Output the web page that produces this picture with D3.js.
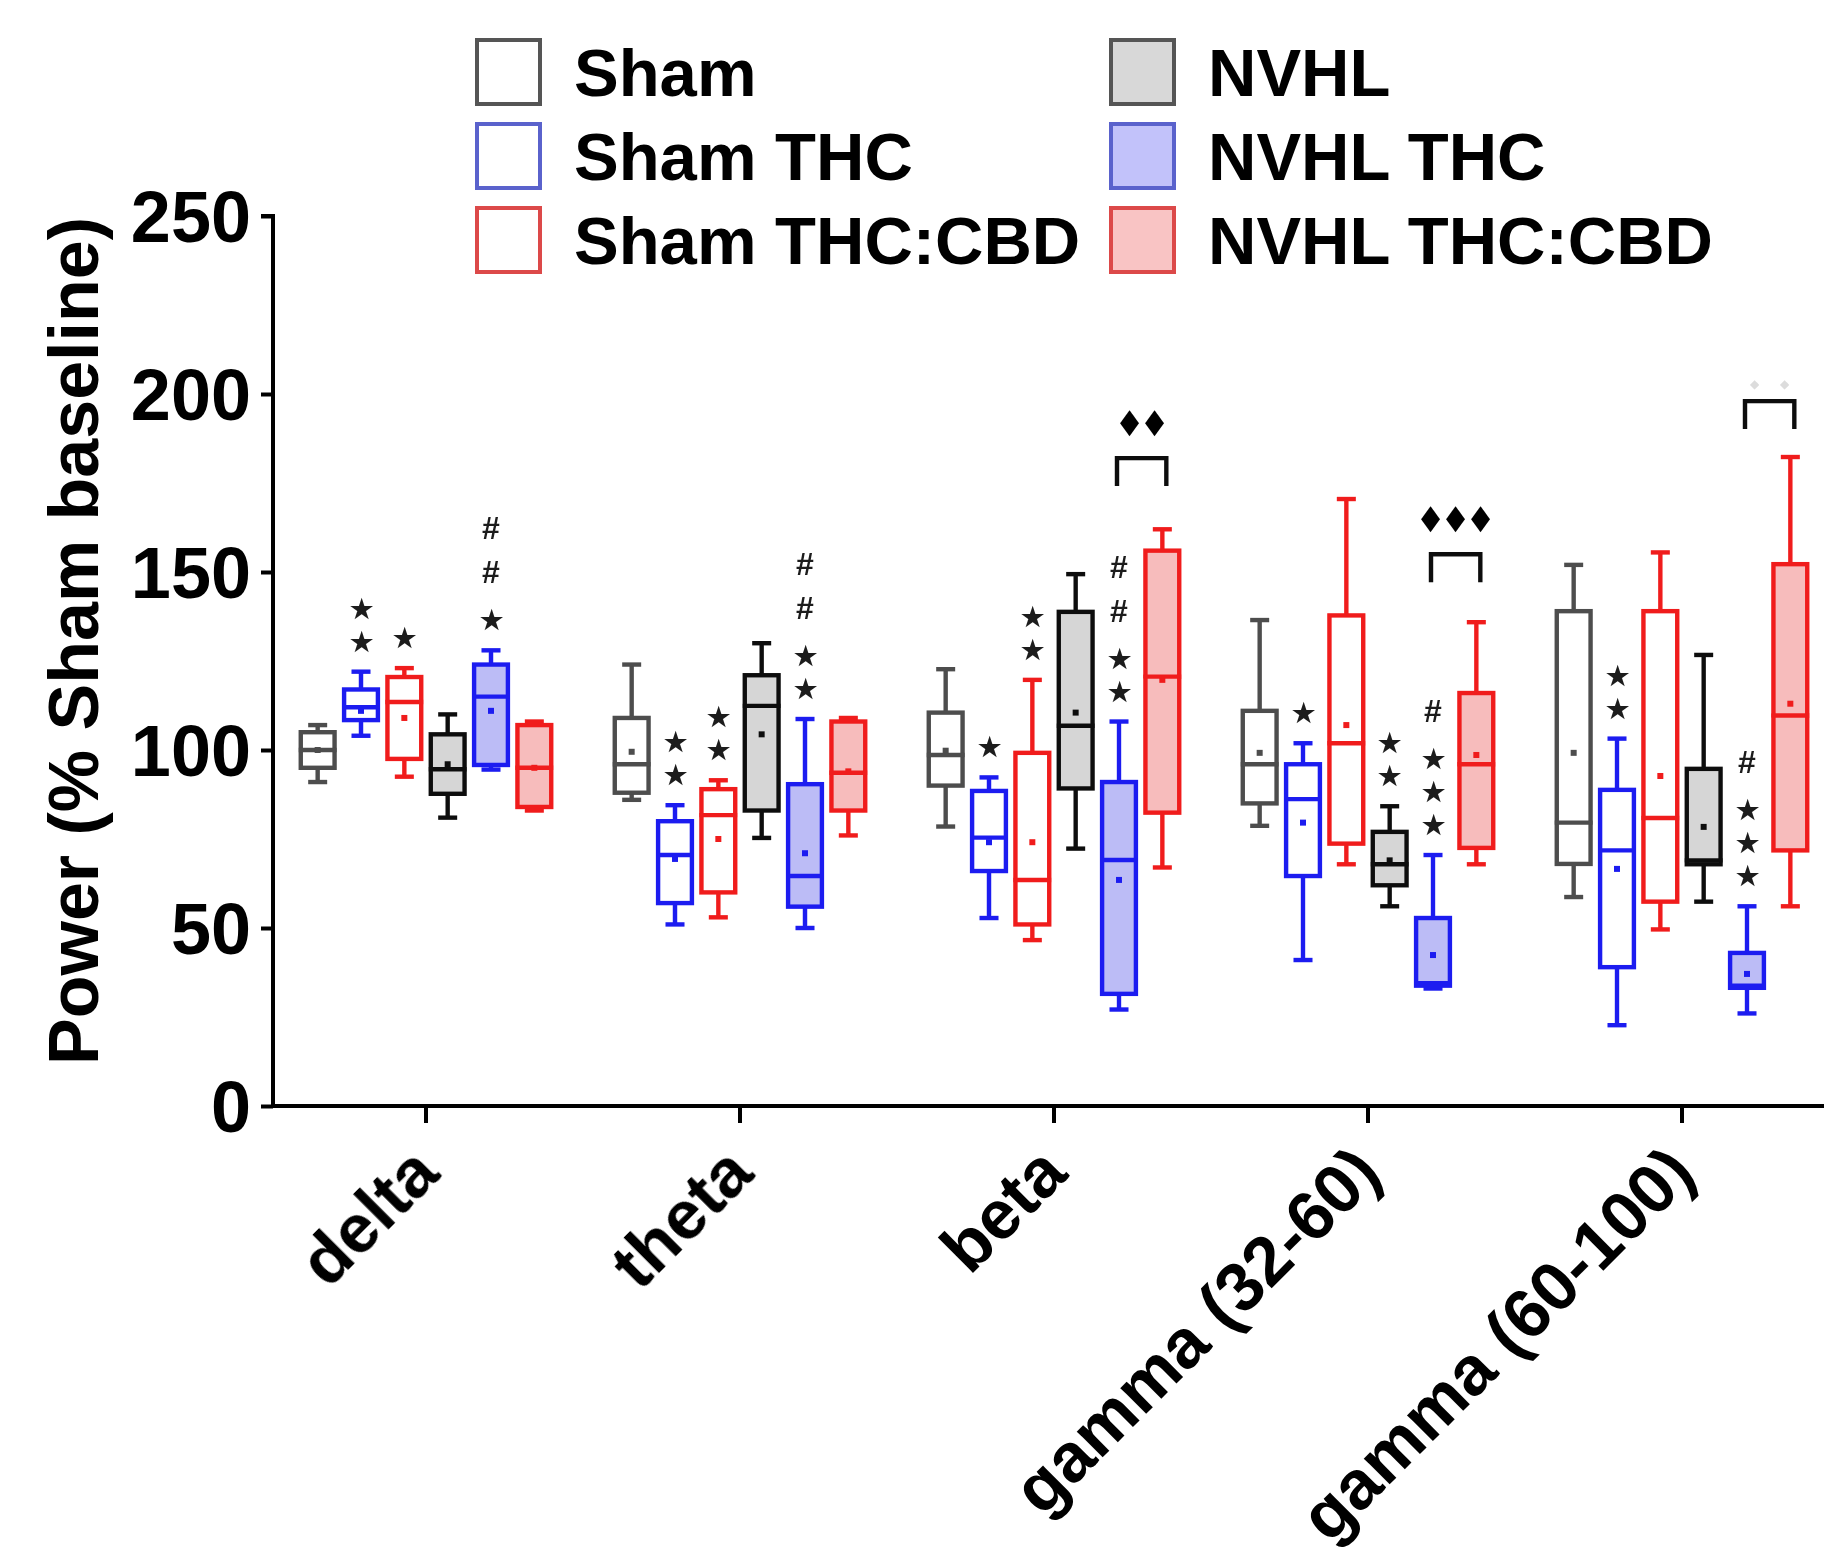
<!DOCTYPE html>
<html>
<head>
<meta charset="utf-8">
<script src="https://cdn.jsdelivr.net/npm/d3@7"></script>
<style>
  html, body { margin: 0; padding: 0; background: #fff; }
  svg { display: block; }
  text { font-family: "Liberation Sans", Arial, sans-serif; }
</style>
</head>
<body>
<svg id="chart" width="1824" height="1555"></svg>
<script>
// Frequency bands and treatment groups
const categories = ["delta", "theta", "beta", "gamma (32-60)", "gamma (60-100)"];
const groups = ["Sham", "Sham THC", "Sham THC:CBD", "NVHL", "NVHL THC", "NVHL THC:CBD"];
const yTicks = [0, 50, 100, 150, 200, 250];

// Box statistics per band: [min, q1, median, q3, max]  (% Sham baseline)
const shamStats = [
  [91, 95, 100, 105, 107],
  [86, 88, 96, 109, 124],
  [78.5, 90, 98.6, 110.5, 122.7],
  [78.7, 85, 96, 111, 136.5],
  [58.7, 68, 79.6, 139, 152]
];
const shamThcStats = [
  [104, 108.4, 112, 117, 122],
  [51, 57, 70.5, 80, 84.5],
  [52.8, 66, 75.4, 88.5, 92.3],
  [41, 64.6, 86.2, 96, 101.9],
  [22.7, 39, 71.8, 88.8, 103.2]
];
const shamThcCbdStats = [
  [92.5, 97.5, 113.5, 120.5, 123],
  [53, 60, 81.7, 89, 91.5],
  [46.6, 51, 63.5, 99.2, 119.7],
  [67.9, 73.7, 101.9, 137.8, 170.5],
  [49.6, 57.4, 80.9, 139, 155.5]
];
const nvhlStats = [
  [81, 87.7, 94.6, 104.4, 110],
  [75.3, 83, 112.4, 121, 130],
  [72.3, 89.2, 106.8, 138.8, 149.4],
  [56.1, 62, 67.9, 77, 84.2],
  [57.4, 67.9, 69, 94.7, 126.7]
];
const nvhlThcStats = [
  [94.5, 95.8, 115, 124, 128],
  [50, 56, 64.6, 90.4, 108.7],
  [27.1, 31.5, 69.1, 91, 108],
  [33, 33.8, 34.5, 52.8, 70.5],
  [26, 33.2, 33.8, 43, 56.1]
];
const nvhlThcCbdStats = [
  [83, 84, 95, 107, 108],
  [76, 83, 93.6, 108, 109],
  [67, 82.4, 120.6, 156, 162],
  [67.9, 72.5, 96, 116, 135.9],
  [56.1, 71.8, 109.7, 152.2, 182.3]
];

// Group means per band
const shamMean = [100, 99.5, 99.8, 99.2, 99.2];
const shamThcMean = [111, 69.4, 74.1, 79.6, 66.6];
const shamThcCbdMean = [109, 75, 74.1, 107, 92.7];
const nvhlMean = [96, 104.4, 110.5, 69, 78.4];
const nvhlThcMean = [111, 71, 63.5, 42.4, 37.1];
const nvhlThcCbdMean = [95, 94, 119.7, 98.6, 113];

// Significance symbols above boxes (listed bottom to top): * vs Sham, # vs NVHL
const sigMarks = [
  { cat: "delta", group: "Sham THC", marks: "**" },
  { cat: "delta", group: "Sham THC:CBD", marks: "*" },
  { cat: "delta", group: "NVHL THC", marks: "*##" },
  { cat: "theta", group: "Sham THC", marks: "**" },
  { cat: "theta", group: "Sham THC:CBD", marks: "**" },
  { cat: "theta", group: "NVHL THC", marks: "**##" },
  { cat: "beta", group: "Sham THC", marks: "*" },
  { cat: "beta", group: "Sham THC:CBD", marks: "**" },
  { cat: "beta", group: "NVHL THC", marks: "**##" },
  { cat: "gamma (32-60)", group: "Sham THC", marks: "*" },
  { cat: "gamma (32-60)", group: "NVHL", marks: "**" },
  { cat: "gamma (32-60)", group: "NVHL THC", marks: "***#" },
  { cat: "gamma (60-100)", group: "Sham THC", marks: "**" },
  { cat: "gamma (60-100)", group: "NVHL THC", marks: "***#" }
];

// NVHL THC vs NVHL THC:CBD comparisons
const brackets = [
  { cat: "beta", level: 182, label: "◆◆", faint: false },
  { cat: "gamma (32-60)", level: 155, label: "◆◆◆", faint: false },
  { cat: "gamma (60-100)", level: 198, label: "◆◆", faint: true }
];

const series = [
  { name: groups[0], stats: shamStats, mean: shamMean, stroke: "#4d4d4d", fill: "#ffffff", legStroke: "#555555", legFill: "#ffffff" },
  { name: groups[1], stats: shamThcStats, mean: shamThcMean, stroke: "#1c1cf0", fill: "#ffffff", legStroke: "#5a62cc", legFill: "#ffffff" },
  { name: groups[2], stats: shamThcCbdStats, mean: shamThcCbdMean, stroke: "#f01c1c", fill: "#ffffff", legStroke: "#dc4848", legFill: "#ffffff" },
  { name: groups[3], stats: nvhlStats, mean: nvhlMean, stroke: "#111111", fill: "#d6d6d6", legStroke: "#555555", legFill: "#d8d8d8" },
  { name: groups[4], stats: nvhlThcStats, mean: nvhlThcMean, stroke: "#1c1cf0", fill: "#bcbcf6", legStroke: "#5a62cc", legFill: "#c2c2fa" },
  { name: groups[5], stats: nvhlThcCbdStats, mean: nvhlThcCbdMean, stroke: "#f01c1c", fill: "#f7bcbc", legStroke: "#dc4848", legFill: "#f9c4c4" }
];

const svg = d3.select("#chart");

// slight softening of the whole figure
svg.append("defs").append("filter").attr("id", "soft")
  .append("feGaussianBlur").attr("stdDeviation", 0.6);
const root = svg.append("g").attr("filter", "url(#soft)");

const axisX = 273, baseY = 1106, topY = 216;
const y = d3.scaleLinear().domain([0, 250]).range([baseY, topY]);
const x = d3.scaleBand().domain(categories).range([269, 1839]).paddingInner(0).paddingOuter(0);
const gx = d3.scaleBand().domain(groups).range([-130, 130]).paddingInner(0.22).paddingOuter(0.11);
const boxW = gx.bandwidth();
const capW = 19;
const lw = 4.4;

const center = (cat, grp) => x(cat) + x.bandwidth() / 2 + gx(grp) + gx.bandwidth() / 2;

// Axes
const yAxis = d3.axisLeft(y).tickValues(yTicks).tickSize(12).tickPadding(10);
const yG = root.append("g").attr("transform", `translate(${axisX},0)`).call(yAxis);
yG.select(".domain").attr("d", `M-12,${topY}H0V${baseY}`).attr("stroke", "#000").attr("stroke-width", 4);
yG.selectAll(".tick line").attr("stroke", "#000").attr("stroke-width", 4);
yG.selectAll(".tick text")
  .attr("font-family", "Liberation Sans, Arial, sans-serif")
  .attr("font-size", 72).attr("font-weight", "bold").attr("fill", "#000")
  .attr("dy", "0.36em");

const xAxis = d3.axisBottom(x).tickSize(17).tickFormat(() => "");
const xG = root.append("g").attr("transform", `translate(0,${baseY})`).call(xAxis);
xG.select(".domain").attr("d", `M${axisX - 2},0H1824`).attr("stroke", "#000").attr("stroke-width", 4);
xG.selectAll(".tick line").attr("stroke", "#000").attr("stroke-width", 4);

// Rotated band labels
root.append("g").selectAll("text").data(categories).join("text")
  .attr("transform", d => `translate(${x(d) + x.bandwidth() / 2 + 16},${baseY + 70}) rotate(-45)`)
  .attr("text-anchor", "end")
  .attr("font-size", 69).attr("font-weight", "bold").attr("fill", "#000")
  .text(d => d);

// Y axis title
root.append("text")
  .attr("transform", `translate(98,${(baseY + topY) / 2 - 20}) rotate(-90)`)
  .attr("text-anchor", "middle")
  .attr("font-size", 70).attr("font-weight", "bold").attr("fill", "#000")
  .text("Power (% Sham baseline)");

// Box plots
const plot = root.append("g");
series.forEach(s => {
  categories.forEach((cat, i) => {
    const [mn, q1, md, q3, mx] = s.stats[i];
    const cx = center(cat, s.name);
    const g = plot.append("g").attr("stroke", s.stroke).attr("stroke-width", lw).attr("fill", "none");
    // whiskers
    g.append("line").attr("x1", cx).attr("x2", cx).attr("y1", y(mx)).attr("y2", y(q3));
    g.append("line").attr("x1", cx).attr("x2", cx).attr("y1", y(q1)).attr("y2", y(mn));
    g.append("line").attr("x1", cx - capW / 2).attr("x2", cx + capW / 2).attr("y1", y(mx)).attr("y2", y(mx));
    g.append("line").attr("x1", cx - capW / 2).attr("x2", cx + capW / 2).attr("y1", y(mn)).attr("y2", y(mn));
    // box
    g.append("rect").attr("x", cx - boxW / 2).attr("width", boxW)
      .attr("y", y(q3)).attr("height", y(q1) - y(q3)).attr("fill", s.fill);
    // median
    g.append("line").attr("x1", cx - boxW / 2 - 2).attr("x2", cx + boxW / 2 + 2)
      .attr("y1", y(md)).attr("y2", y(md));
    // mean
    g.append("rect").attr("x", cx - 3).attr("y", y(s.mean[i]) - 3).attr("width", 6).attr("height", 6)
      .attr("stroke", "none").attr("fill", s.stroke);
  });
});

// Significance symbols
const sigG = root.append("g").attr("fill", "#1a1a1a");
sigMarks.forEach(m => {
  const s = series.find(d => d.name === m.group);
  const i = categories.indexOf(m.cat);
  const cx = center(m.cat, m.group);
  let yy = y(s.stats[i][4]) - 30;
  let prev = null;
  for (const ch of m.marks) {
    if (prev !== null) yy -= (ch === "#" ? (prev === "#" ? 44 : 48) : 33);
    sigG.append("text")
      .attr("x", cx).attr("y", yy)
      .attr("text-anchor", "middle").attr("dominant-baseline", "central")
      .attr("font-family", ch === "#" ? "Liberation Sans, Arial, sans-serif" : "DejaVu Sans, sans-serif")
      .attr("font-weight", "bold")
      .attr("font-size", ch === "#" ? 32 : 26)
      .text(ch === "*" ? "★" : "#");
    prev = ch;
  }
});

// Comparison brackets, with one diamond glyph per significance level
const brG = root.append("g");
brackets.forEach(b => {
  const x1 = center(b.cat, "NVHL THC") - 2;
  const x2 = center(b.cat, "NVHL THC:CBD") + 4;
  const yt = y(b.level);
  brG.append("path")
    .attr("d", `M${x1},${yt + 28}V${yt}H${x2}V${yt + 28}`)
    .attr("fill", "none").attr("stroke", "#111").attr("stroke-width", 4.4);
  const glyphs = Array.from(b.label);
  const pitch = b.faint ? 30 : 25;
  glyphs.forEach((gch, k) => {
    brG.append("text")
      .attr("x", (x1 + x2) / 2 + (k - (glyphs.length - 1) / 2) * pitch)
      .attr("y", b.faint ? yt - 17 : yt - 38)
      .attr("text-anchor", "middle").attr("dominant-baseline", "central")
      .attr("font-family", "DejaVu Sans, sans-serif")
      .attr("font-size", b.faint ? 12 : 26)
      .attr("transform", null)
      .attr("fill", b.faint ? "#dcdcdc" : "#000")
      .attr("style", b.faint ? null : "transform-box: fill-box; transform-origin: center; transform: scale(0.95, 1.3)")
      .text(gch);
  });
});

// Legend
const legend = root.append("g");
const legCols = [477, 1111];
const legRows = [40, 124, 208];
series.forEach((s, k) => {
  const lx = legCols[Math.floor(k / 3)];
  const ly = legRows[k % 3];
  legend.append("rect").attr("x", lx).attr("y", ly).attr("width", 63).attr("height", 64)
    .attr("fill", s.legFill).attr("stroke", s.legStroke).attr("stroke-width", 4);
  legend.append("text").attr("x", lx + 97).attr("y", ly + 32).attr("dy", "0.36em")
    .attr("font-size", 67).attr("font-weight", "bold").attr("fill", "#000")
    .text(s.name);
});
</script>
</body>
</html>
